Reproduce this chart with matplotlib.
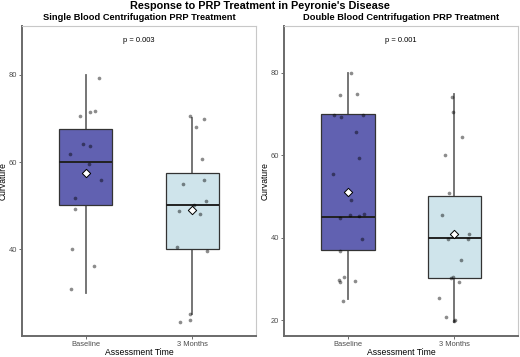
import matplotlib
matplotlib.use("Agg")
import matplotlib.pyplot as plt
import numpy as np

plt.rcParams['font.family'] = ['Liberation Sans', 'DejaVu Sans']

groups = ["Baseline", "3 Months"]
titles = ["Single Blood Centrifugation PRP Treatment",
          "Double Blood Centrifugation PRP Treatment"]
pvals = ["p = 0.003", "p = 0.001"]

# box stats: whislo, q1, med, q3, whishi, mean
single_stats = [[30.1, 50.1, 60.0, 67.6, 80.0, 57.4],
                [25.1, 40.0, 50.1, 57.5, 70.1, 49.0]]
double_stats = [[25.1, 37.0, 45.0, 70.0, 80.0, 51.0],
                [19.6, 30.1, 40.0, 50.0, 74.8, 40.9]]

# individual points (curvature) and their jitter in category units
single_base = [79.3, 71.7, 71.4, 70.5, 64.2, 63.7, 61.8, 59.5, 55.9, 51.8,
               49.2, 40.0, 36.2, 30.9]
single_base_jit = [0.128, 0.084, 0.044, -0.053, -0.031, 0.044, -0.15, 0.031,
                   0.143, -0.10, -0.10, -0.128, 0.075, -0.138]
single_3m = [70.5, 69.9, 68.0, 60.8, 56.0, 55.0, 51.0, 50.1, 48.7, 48.2,
             40.5, 39.7, 25.1, 23.9, 23.4]
single_3m_jit = [-0.022, 0.109, 0.037, 0.097, 0.109, -0.091, 0.131, 0.019,
                 -0.128, 0.075, -0.147, 0.141, -0.019, -0.022, -0.116]
double_base = [80.0, 74.5, 74.9, 69.6, 69.2, 69.7, 65.6, 59.4, 55.3, 49.2,
               45.4, 45.3, 45.8, 44.7, 39.7, 36.7, 30.5, 29.7, 29.3, 29.5, 24.7]
double_base_jit = [0.032, -0.071, 0.088, -0.127, -0.068, 0.144, 0.079, 0.1,
                   -0.14, 0.025, 0.016, 0.1, 0.15, -0.078, 0.131, -0.075,
                   -0.034, -0.084, -0.078, 0.065, -0.047]
double_3m = [74.2, 70.4, 64.4, 60.1, 50.7, 45.4, 39.7, 39.7, 40.8, 34.5,
             30.3, 30.4, 29.3, 25.3, 20.7, 20.0, 19.8]
double_3m_jit = [-0.024, -0.009, 0.072, -0.084, -0.052, -0.115, -0.062, 0.125,
                 0.14, 0.065, -0.034, -0.015, 0.041, -0.143, -0.075, 0.009, 0.0]

fills = ["#6161b1", "#cfe4eb"]

fig = plt.figure(figsize=(5.2, 3.57), dpi=100)
ax1 = fig.add_axes([22/520, 1-335.7/357, 234/520, 309.7/357])
ax2 = fig.add_axes([284/520, 1-335.7/357, 234.3/520, 309.7/357])

panels = [
    (ax1, single_stats, [(single_base, single_base_jit), (single_3m, single_3m_jit)], (20.2, 91.2), [40, 60, 80]),
    (ax2, double_stats, [(double_base, double_base_jit), (double_3m, double_3m_jit)], (16.2, 91.3), [20, 40, 60, 80]),
]

for i, (ax, stats, pts, ylim, yt) in enumerate(panels):
    bstats = []
    for s in stats:
        bstats.append(dict(whislo=s[0], q1=s[1], med=s[2], q3=s[3], whishi=s[4],
                           mean=s[5], fliers=[]))
    bp = ax.bxp(bstats, positions=[1, 2], widths=0.5, patch_artist=True,
                showcaps=False, showfliers=False, showmeans=False,
                boxprops=dict(edgecolor="#333333", linewidth=0.9),
                medianprops=dict(color="#222222", linewidth=1.4),
                whiskerprops=dict(color="#6a6a6a", linewidth=1.3))
    for patch, c in zip(bp['boxes'], fills):
        patch.set_facecolor(c)
        patch.set_zorder(1)
    for w in bp['whiskers']:
        w.set_zorder(0.5)
    for k, (vals, jit) in enumerate(pts):
        ax.scatter(np.array(jit) + k + 1, vals, s=7, color="black", alpha=0.45,
                   linewidths=0, zorder=3)
    ax.scatter([1, 2], [s[5] for s in stats], marker="D", s=18, facecolor="white",
               edgecolor="black", linewidths=0.7, zorder=4)

    ax.set_xlim(0.4, 2.6)
    ax.set_ylim(*ylim)
    ax.set_yticks(yt)
    ax.set_xticks([1, 2])
    ax.set_xticklabels(groups)
    ax.tick_params(labelsize=5.4, colors="#555555", length=2, width=0.6,
                   labelcolor="#4d4d4d", pad=1.5)
    for side in ["left", "bottom"]:
        ax.spines[side].set_color("#6a6a6a")
        ax.spines[side].set_linewidth(1.4)
    for side in ["top", "right"]:
        ax.spines[side].set_color("#c8c8c8")
        ax.spines[side].set_linewidth(0.8)
    ax.set_xlabel("Assessment Time", fontsize=6.2, labelpad=0.5)
    ax.set_ylabel("Curvature", fontsize=6.2)
    ax.yaxis.set_label_coords(-14.5/234, 0.5)
    ax.set_title(titles[i], fontsize=6.7, fontweight="bold", pad=4)
    ax.text(0.5, 0.952, pvals[i], transform=ax.transAxes, ha="center",
            va="center", fontsize=5.4)

fig.suptitle("Response to PRP Treatment in Peyronie's Disease", fontsize=7.8,
             fontweight="bold", x=0.5, y=0.998, va="top")

fig.savefig("out.png", dpi=100)
